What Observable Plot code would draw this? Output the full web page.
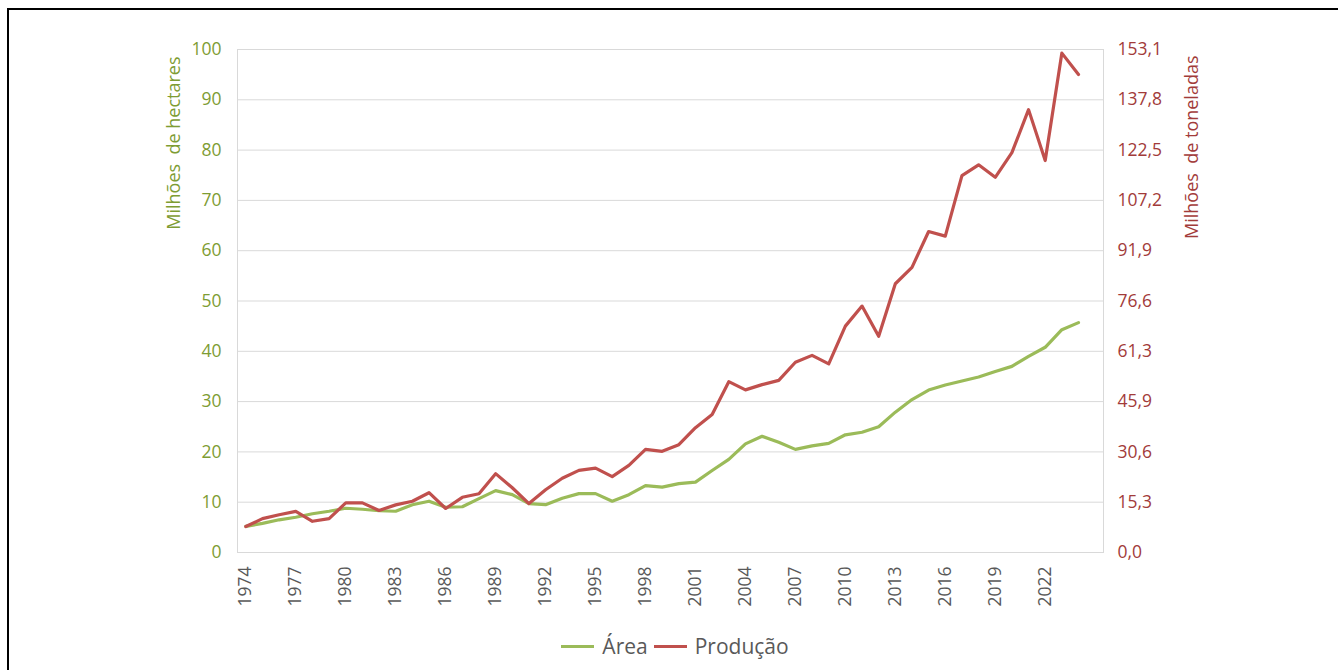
<!DOCTYPE html>
<html>
<head>
<meta charset="utf-8">
<script src="https://cdn.jsdelivr.net/npm/d3@7"></script>
<script src="https://cdn.jsdelivr.net/npm/@observablehq/plot@0.6"></script>
<style>
  html, body { margin: 0; padding: 0; background: #fff; width: 1338px; height: 670px; overflow: hidden; font-family: "Open Sans", sans-serif; }
  #frameBox { position: absolute; left: 7px; top: 8px; width: 1400px; height: 700px; border-top: 2px solid #000; border-left: 2px solid #000; }
  #chart { position: absolute; left: 0; top: 0; }
  #legend { position: absolute; left: 6px; top: 630px; width: 1338px; height: 32px; display: flex; justify-content: center; align-items: center; font-size: 21px; color: #595959; }
  .item { display: flex; align-items: center; margin: 0 3px; }
  .swatch { width: 33px; height: 3px; margin-right: 8px; }
</style>
</head>
<body>
<div id="frameBox"></div>
<div id="chart"></div>
<div id="legend"></div>
<script>
const years = d3.range(1974, 2025);
const area = [5.2, 5.8, 6.5, 7.0, 7.7, 8.2, 8.8, 8.6, 8.3, 8.2,
  9.5, 10.2, 9.0, 9.1, 10.7, 12.3, 11.5, 9.7, 9.5, 10.8,
  11.7, 11.7, 10.2, 11.5, 13.3, 13.0, 13.7, 14.0, 16.3, 18.5,
  21.6, 23.1, 21.9, 20.5, 21.2, 21.7, 23.4, 23.9, 25.0, 27.9,
  30.4, 32.3, 33.3, 34.1, 34.9, 36.0, 37.0, 39.0, 40.8, 44.3, 45.7];
const producao = [7.9, 10.3, 11.5, 12.5, 9.5, 10.3, 15.1, 15.1, 12.8, 14.5,
  15.6, 18.2, 13.4, 16.8, 17.9, 24.0, 19.7, 14.9, 19.1, 22.6,
  25.0, 25.7, 23.1, 26.5, 31.4, 30.8, 32.8, 38.0, 42.0, 52.0,
  49.5, 51.1, 52.4, 57.9, 60.0, 57.4, 68.9, 75.0, 65.8, 81.8,
  86.8, 97.7, 96.3, 114.7, 118.0, 114.2, 121.7, 134.8, 119.3, 152.0, 145.5];
const xTicks = [1974, 1977, 1980, 1983, 1986, 1989, 1992, 1995, 1998, 2001, 2004, 2007, 2010, 2013, 2016, 2019, 2022];
const leftTicks = [0, 10, 20, 30, 40, 50, 60, 70, 80, 90, 100];
const rightTickLabels = ["0,0", "15,3", "30,6", "45,9", "61,3", "76,6", "91,9", "107,2", "122,5", "137,8", "153,1"];
const rightMax = 153.1;
const seriesNames = ["Área", "Produção"];
const seriesColors = ["#9bbb59", "#c0504d"];

const areaData = years.map((y, i) => ({year: y, v: area[i]}));
const prodData = years.map((y, i) => ({year: y, v: producao[i] / rightMax * 100}));

const leftColor = "#7e9c33";
const rightColor = "#a23b3a";

const chart = Plot.plot({
  width: 1338,
  height: 620,
  marginLeft: 237,
  marginRight: 235,
  marginTop: 49,
  marginBottom: 68,
  style: {fontFamily: "'Open Sans', sans-serif", background: "transparent"},
  x: {type: "linear", domain: [1973.5, 2025.5]},
  y: {domain: [0, 100]},
  marks: [
    Plot.gridY({ticks: leftTicks, stroke: "#d9d9d9", strokeOpacity: 1}),
    Plot.frame({stroke: "#d9d9d9"}),
    Plot.axisY({ticks: leftTicks, tickSize: 0, tickPadding: 16, fontSize: 17.5, color: leftColor, label: null, tickFormat: d => String(d)}),
    Plot.axisY({anchor: "right", ticks: leftTicks, tickSize: 0, tickPadding: 14, fontSize: 17.5, color: rightColor, label: null, tickFormat: (d) => rightTickLabels[leftTicks.indexOf(d)]}),
    Plot.axisX({ticks: xTicks, tickSize: 0, tickPadding: 14, tickRotate: -90, fontSize: 17.5, color: "#595959", label: null, tickFormat: d => String(d)}),
    Plot.text(["Milhões  de hectares"], {frameAnchor: "top-left", dx: -70, dy: 7, rotate: -90, textAnchor: "end", fontSize: 18, fill: leftColor}),
    Plot.text(["Milhões  de toneladas"], {frameAnchor: "top-right", dx: 82, dy: 6, rotate: -90, textAnchor: "end", fontSize: 18, fill: rightColor}),
    Plot.line(areaData, {x: "year", y: "v", stroke: seriesColors[0], strokeWidth: 3.2, strokeLinejoin: "round", strokeLinecap: "round"}),
    Plot.line(prodData, {x: "year", y: "v", stroke: seriesColors[1], strokeWidth: 3.2, strokeLinejoin: "round", strokeLinecap: "round"})
  ]
});
document.getElementById("chart").appendChild(chart);

const legend = document.getElementById("legend");
seriesNames.forEach((name, i) => {
  const item = document.createElement("div");
  item.className = "item";
  const sw = document.createElement("div");
  sw.className = "swatch";
  sw.style.background = seriesColors[i];
  const lab = document.createElement("span");
  lab.textContent = name;
  item.appendChild(sw);
  item.appendChild(lab);
  legend.appendChild(item);
});
</script>
</body>
</html>
